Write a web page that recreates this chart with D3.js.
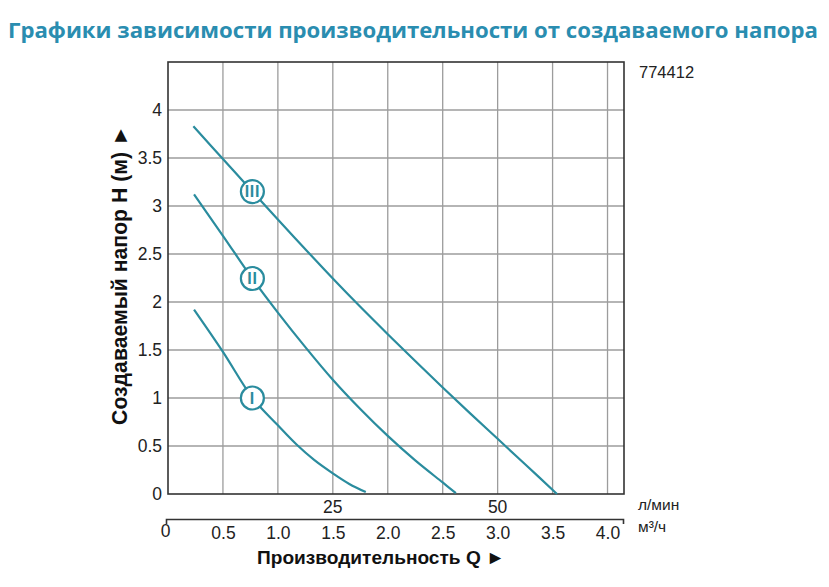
<!DOCTYPE html>
<html><head><meta charset="utf-8">
<script src="https://cdn.jsdelivr.net/npm/d3@7"></script>
<style>body{margin:0;background:#fff;} svg{display:block;}</style>
</head><body>
<svg id="c" width="829" height="587"></svg>
<script>
const titleText = "Графики зависимости производительности от создаваемого напора";
const modelCode = "774412";
const yTitle = "Создаваемый напор H (м) ►";
const xTitle = "Производительность Q ►";
const qTicks = [0, 0.5, 1.0, 1.5, 2.0, 2.5, 3.0, 3.5, 4.0];
const hTicks = [0, 0.5, 1, 1.5, 2, 2.5, 3, 3.5, 4];
const lpmTicks = [25, 50];
const unitLpm = "л/мин", unitM3h = "м³/ч";
const curveNames = ["I", "II", "III"];
const curveI_Q = [0.237, 0.5, 0.77, 1.0, 1.17, 1.33, 1.5, 1.65, 1.8];
const curveI_H = [1.92, 1.48, 1.0, 0.715, 0.515, 0.355, 0.215, 0.105, 0.02];
const curveII_Q = [0.237, 0.5, 0.77, 1.0, 1.25, 1.5, 1.75, 2.0, 2.25, 2.5, 2.62];
const curveII_H = [3.12, 2.69, 2.24, 1.89, 1.53, 1.19, 0.885, 0.605, 0.35, 0.12, 0.01];
const curveIII_Q = [0.231, 0.5, 0.768, 1.0, 1.25, 1.5, 1.75, 2.0, 2.25, 2.5, 2.75, 3.0, 3.25, 3.54];
const curveIII_H = [3.83, 3.49, 3.15, 2.86, 2.55, 2.245, 1.95, 1.665, 1.385, 1.11, 0.84, 0.575, 0.31, 0.0];
const markerQ = 0.768;
const markerH = [1.0, 2.245, 3.15];

const svg = d3.select("#c");
const teal = "#2a8c9e";
const x = d3.scaleLinear().domain([0, 4.15]).range([168, 624]);
const y = d3.scaleLinear().domain([0, 4.5]).range([494, 62]);
const font = "'Liberation Sans', Arial, sans-serif";
const tickFs = 17.5;

// title
svg.append("text").attr("x", 8).attr("y", 38)
  .attr("font-family", "'Open Sans', sans-serif").attr("font-weight", 700)
  .attr("font-size", 22).attr("fill", "#2a8db0")
  .attr("textLength", 810).attr("lengthAdjust", "spacingAndGlyphs").text(titleText);

// grid
const g = svg.append("g");
g.selectAll("line.v").data(qTicks.filter(d => d > 0)).join("line")
  .attr("x1", d => x(d)).attr("x2", d => x(d)).attr("y1", y(4.5)).attr("y2", y(0))
  .attr("stroke", "#9c9c9c").attr("stroke-width", 1.3);
g.selectAll("line.h").data(hTicks.filter(d => d > 0)).join("line")
  .attr("x1", x(0)).attr("x2", x(4.15)).attr("y1", d => y(d)).attr("y2", d => y(d))
  .attr("stroke", "#9c9c9c").attr("stroke-width", 1.3);
svg.append("rect").attr("x", x(0)).attr("y", y(4.5)).attr("width", x(4.15) - x(0))
  .attr("height", y(0) - y(4.5)).attr("fill", "none").attr("stroke", "#333").attr("stroke-width", 1.6);

// y axis labels
const ya = svg.append("g").attr("transform", `translate(${x(0)},0)`)
  .call(d3.axisLeft(y).tickValues(hTicks).tickFormat(d => String(d)).tickSize(0).tickPadding(6));
ya.select(".domain").remove();
ya.selectAll("text").attr("font-family", font).attr("font-size", tickFs).attr("fill", "#222");

// l/min labels
svg.selectAll("text.lpm").data(lpmTicks).join("text")
  .attr("x", d => x(d * 0.06)).attr("y", 513).attr("text-anchor", "middle")
  .attr("font-family", font).attr("font-size", tickFs).attr("fill", "#222").text(d => d);

// m3/h axis
const xa = svg.append("g").attr("transform", "translate(0,519)")
  .call(d3.axisBottom(x.copy().range([166, 623]).domain([0, 4.15 * (623 - 166) / 456 ]))
    .tickValues([]).tickSizeOuter(5));
xa.select(".domain").attr("stroke", "#333").attr("stroke-width", 1.6);
const xb = svg.append("g").attr("transform", "translate(0,519)")
  .call(d3.axisBottom(x).tickValues(qTicks).tickFormat(d => d === 0 ? "0" : d.toFixed(1)).tickSize(0).tickPadding(8));
xb.select(".domain").remove();
xb.selectAll("text").attr("font-family", font).attr("font-size", tickFs).attr("fill", "#222")
  .attr("dx", d => d === 0 ? -3 : 0).attr("dy", d => d === 0 ? "0.55em" : "0.71em");

svg.append("text").attr("x", 638).attr("y", 510).attr("font-family", font).attr("font-size", 15.5).attr("fill", "#222").text(unitLpm);
svg.append("text").attr("x", 638).attr("y", 532).attr("font-family", font).attr("font-size", 15.5).attr("fill", "#222").text(unitM3h);
svg.append("text").attr("x", 639).attr("y", 78).attr("font-family", font).attr("font-size", 16.5).attr("fill", "#222").text(modelCode);

// axis titles
function fit(sel, target) {
  const w = sel.node().getComputedTextLength();
  const fs = parseFloat(sel.attr("font-size"));
  sel.attr("font-size", fs * target / w);
}
const xt = svg.append("text").attr("x", 381).attr("y", 564).attr("text-anchor", "middle")
  .attr("font-family", font).attr("font-weight", 700).attr("font-size", 19).attr("fill", "#111").text(xTitle);
fit(xt, 248);
const yt = svg.append("text").attr("transform", "translate(127,275) rotate(-90)").attr("text-anchor", "middle")
  .attr("font-family", font).attr("font-weight", 700).attr("font-size", 20).attr("fill", "#111").text(yTitle);
fit(yt, 300);

// curves
const line = d3.line().x(d => x(d[0])).y(d => y(d[1])).curve(d3.curveCatmullRom.alpha(0.5));
const curves = [[curveI_Q, curveI_H], [curveII_Q, curveII_H], [curveIII_Q, curveIII_H]];
svg.selectAll("path.curve").data(curves).join("path")
  .attr("d", c => line(c[0].map((q, i) => [q, c[1][i]])))
  .attr("fill", "none").attr("stroke", teal).attr("stroke-width", 2.2);

// markers
const m = svg.selectAll("g.mk").data(markerH).join("g")
  .attr("transform", d => `translate(${x(markerQ)},${y(d)})`);
m.append("circle").attr("r", 11.5).attr("fill", "#fff").attr("stroke", teal).attr("stroke-width", 2.2);
m.append("text").attr("text-anchor", "middle").attr("dy", "0.36em")
  .attr("font-family", "'Liberation Sans Narrow', 'Liberation Sans', sans-serif").attr("font-weight", 700)
  .attr("font-size", 16).attr("letter-spacing", 0.6).attr("fill", teal).text((d, i) => curveNames[i]);
</script>
</body></html>
